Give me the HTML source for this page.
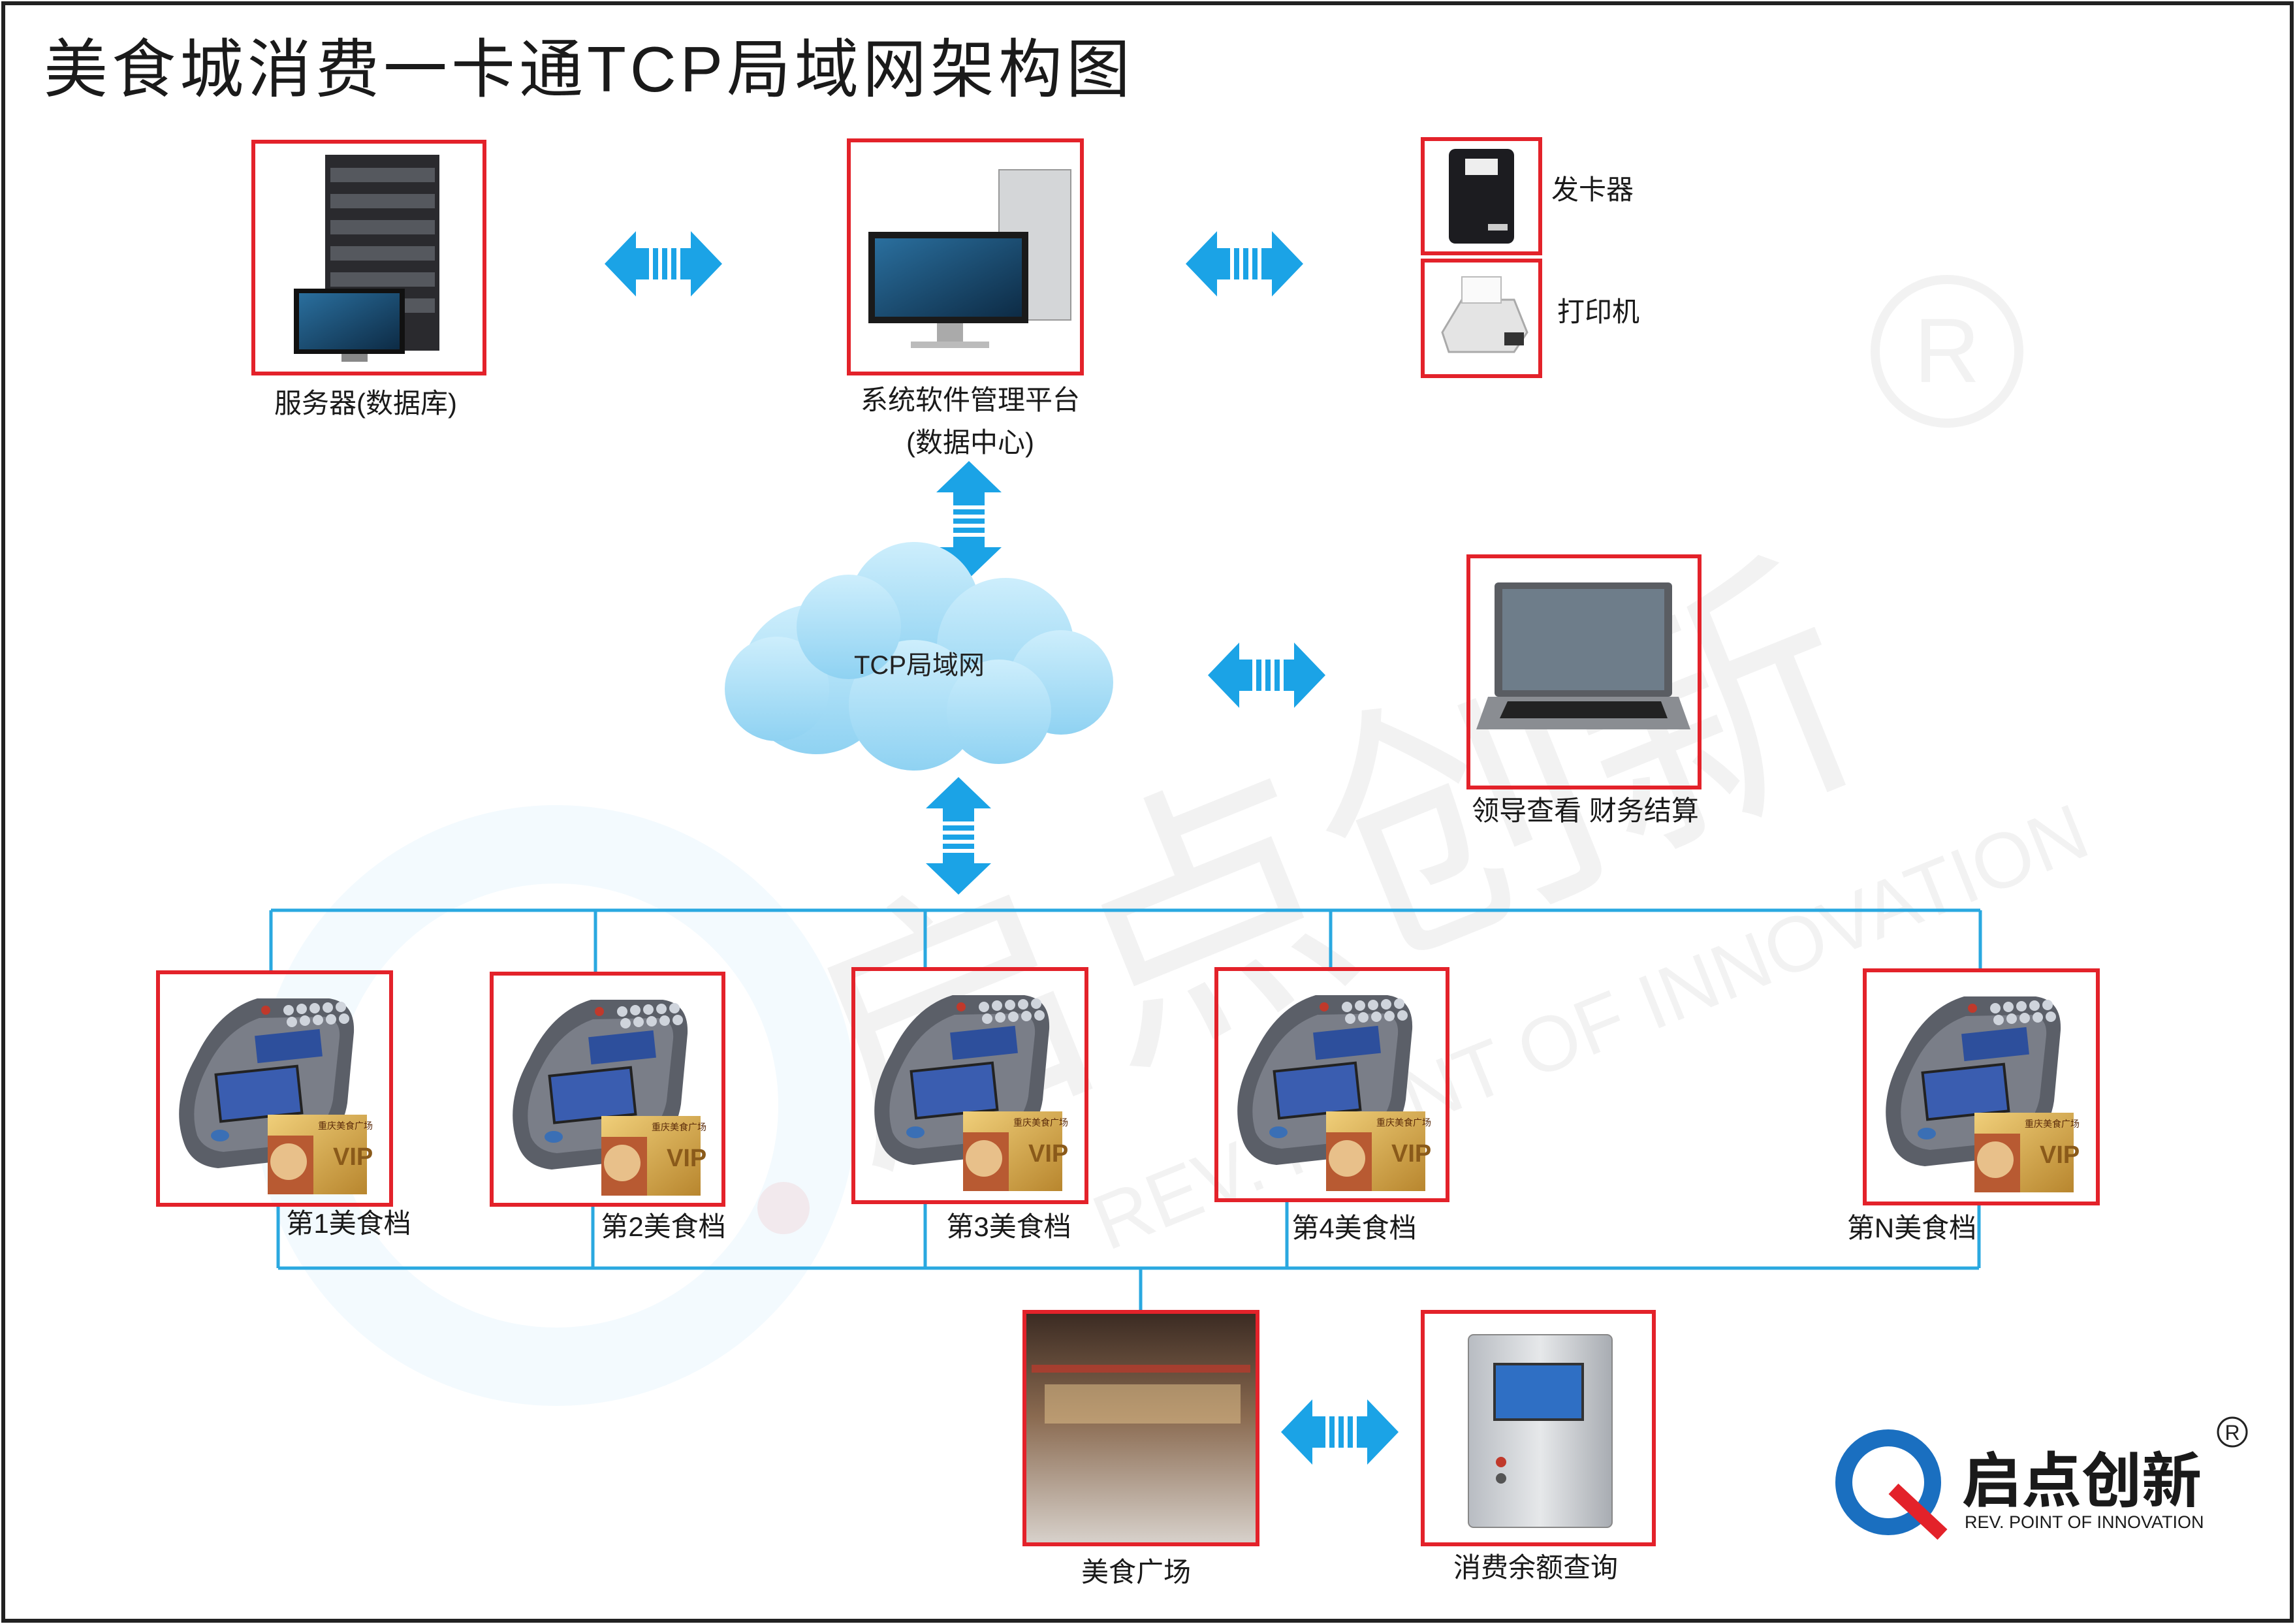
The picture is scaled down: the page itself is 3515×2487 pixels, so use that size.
<!DOCTYPE html>
<html><head><meta charset="utf-8"><style>
html,body{margin:0;padding:0;background:#fff}
svg{display:block}
text{font-family:"Liberation Sans","Noto Sans CJK SC",sans-serif}
</style></head><body>
<svg width="3515" height="2487" viewBox="0 0 3515 2487" xmlns="http://www.w3.org/2000/svg">
<defs>
<linearGradient id="cl" x1="0" y1="0" x2="0" y2="1"><stop offset="0" stop-color="#cdeefc"/><stop offset="1" stop-color="#8fd2f2"/></linearGradient>
<linearGradient id="gold" x1="0" y1="0" x2="1" y2="1"><stop offset="0" stop-color="#f0cf7a"/><stop offset="1" stop-color="#b8862e"/></linearGradient>
<linearGradient id="scr" x1="0" y1="0" x2="1" y2="1"><stop offset="0" stop-color="#2a6f9e"/><stop offset="1" stop-color="#0d2b45"/></linearGradient>
<linearGradient id="plaza" x1="0" y1="0" x2="0" y2="1"><stop offset="0" stop-color="#3a2a22"/><stop offset="0.45" stop-color="#8a6a50"/><stop offset="1" stop-color="#d8d2cc"/></linearGradient>
<linearGradient id="silver" x1="0" y1="0" x2="1" y2="0"><stop offset="0" stop-color="#b8bcc2"/><stop offset="0.5" stop-color="#e6e8ea"/><stop offset="1" stop-color="#a8acb2"/></linearGradient>
<g id="harrow">
<polygon points="0,50 48,0 48,26 132,26 132,0 180,50 132,100 132,74 48,74 48,100" fill="#1ba3e6"/>
<rect x="68" y="26" width="6" height="48" fill="#fff"/><rect x="82" y="26" width="6" height="48" fill="#fff"/><rect x="96" y="26" width="6" height="48" fill="#fff"/><rect x="110" y="26" width="6" height="48" fill="#fff"/>
</g>
<g id="pos">
<path d="M40,262 Q18,200 58,130 Q92,58 152,40 L262,40 Q302,46 300,92 L290,200 Q280,268 200,288 L92,300 Q52,296 40,262Z" fill="#5b5f68"/>
<path d="M60,250 Q45,200 78,140 Q105,88 155,70 L255,68 Q280,72 278,100 L268,195 Q258,250 195,265 L100,275 Q70,272 60,250Z" fill="#7a7e88"/>
<rect x="150" y="92" width="100" height="42" fill="#2d4f9c" transform="rotate(-6 200 113)"/>
<rect x="92" y="150" width="125" height="72" fill="#3a5db0" stroke="#222" stroke-width="4" transform="rotate(-6 155 186)"/>
<g fill="#cfd4dc"><circle cx="200" cy="58" r="8"/><circle cx="220" cy="56" r="8"/><circle cx="240" cy="55" r="8"/><circle cx="260" cy="54" r="8"/><circle cx="280" cy="53" r="8"/><circle cx="205" cy="76" r="8"/><circle cx="225" cy="74" r="8"/><circle cx="245" cy="73" r="8"/><circle cx="265" cy="72" r="8"/><circle cx="285" cy="71" r="8"/></g>
<circle cx="165" cy="58" r="7" fill="#c0392b"/>
<ellipse cx="95" cy="250" rx="14" ry="9" fill="#3a6fb5"/>
<rect x="168" y="218" width="152" height="122" fill="url(#gold)"/>
<rect x="168" y="250" width="70" height="90" fill="#b85a32"/>
<circle cx="200" cy="290" r="28" fill="#e8c08a"/>
<text x="268" y="295" font-size="38" font-weight="bold" fill="#8a5a1a">VIP</text>
<text x="245" y="240" font-size="14" fill="#5a2a0a">重庆美食广场</text>
</g>
</defs>
<rect width="3515" height="2487" fill="#fff"/>
<!-- watermark -->
<circle cx="852" cy="1693" r="400" fill="none" stroke="#1ba3e6" stroke-opacity="0.05" stroke-width="120"/>
<circle cx="1200" cy="1850" r="40" fill="#e3222a" fill-opacity="0.08"/>
<text x="1150" y="1480" font-size="420" fill="#000" fill-opacity="0.05" transform="rotate(-22 2000 1200)">启点创新</text>
<text x="1450" y="1750" font-size="120" fill="#000" fill-opacity="0.05" transform="rotate(-22 2000 1200)">REV. POINT OF INNOVATION</text>
<circle cx="2982" cy="538" r="110" fill="none" stroke="#000" stroke-opacity="0.05" stroke-width="14"/>
<text x="2982" y="585" font-size="140" text-anchor="middle" fill="#000" fill-opacity="0.05">R</text>
<!-- border -->
<rect x="5" y="5" width="3505" height="2477" fill="none" stroke="#222" stroke-width="6"/>
<text x="67" y="140" font-size="98" fill="#1a1a1a" letter-spacing="6">美食城消费一卡通TCP局域网架构图</text>

<!-- lines -->
<g stroke="#2aa8e0" stroke-width="5" fill="none">
<path d="M415,1394 H3033 M415,1394 V1489 M912,1394 V1491 M1417,1394 V1484 M2038,1394 V1484 M3033,1394 V1486"/>
<path d="M426,1942 H3031 M426,1845 V1942 M908,1845 V1942 M1417,1841 V1942 M1971,1838 V1942 M3031,1843 V1942 M1747,1942 V2009"/>
</g>

<!-- arrows -->
<use href="#harrow" transform="translate(926,354)"/>
<use href="#harrow" transform="translate(1816,354)"/>
<use href="#harrow" transform="translate(1850,984)"/>
<use href="#harrow" transform="translate(1962,2143)"/>
<use href="#harrow" transform="translate(1534,706) rotate(90)"/>
<use href="#harrow" transform="translate(1518,1190) rotate(90)"/>

<!-- cloud -->
<g fill="url(#cl)">
<circle cx="1250" cy="1040" r="115"/><circle cx="1400" cy="930" r="100"/><circle cx="1540" cy="990" r="105"/>
<circle cx="1625" cy="1045" r="80"/><circle cx="1190" cy="1055" r="80"/><circle cx="1400" cy="1080" r="100"/><circle cx="1530" cy="1090" r="80"/><circle cx="1300" cy="960" r="80"/>
</g>
<text x="1408" y="1032" font-size="40" text-anchor="middle" fill="#222">TCP局域网</text>

<!-- server -->
<g transform="translate(388,217)">
<rect x="110" y="20" width="175" height="300" fill="#2a2a2e"/>
<g fill="#55585e"><rect x="118" y="40" width="160" height="22"/><rect x="118" y="80" width="160" height="22"/><rect x="118" y="120" width="160" height="22"/><rect x="118" y="160" width="160" height="22"/><rect x="118" y="200" width="160" height="22"/><rect x="118" y="240" width="160" height="22"/></g>
<rect x="62" y="225" width="170" height="100" fill="#111"/><rect x="70" y="232" width="154" height="86" fill="url(#scr)"/>
<rect x="135" y="325" width="40" height="12" fill="#888"/>
</g>
<!-- pc -->
<g transform="translate(1300,215)">
<rect x="230" y="45" width="110" height="230" fill="#d4d6d8" stroke="#999" stroke-width="2"/>
<rect x="30" y="140" width="245" height="140" fill="#1a1a1a"/><rect x="40" y="150" width="225" height="120" fill="url(#scr)"/>
<rect x="135" y="280" width="40" height="30" fill="#aaa"/><rect x="95" y="308" width="120" height="10" fill="#bbb"/>
</g>
<!-- card issuer -->
<g transform="translate(2179,213)">
<rect x="40" y="15" width="100" height="145" rx="10" fill="#1c1c20"/>
<rect x="65" y="30" width="50" height="25" fill="#eee"/>
<rect x="100" y="130" width="30" height="10" fill="#ccc"/>
</g>
<!-- printer -->
<g transform="translate(2179,399)">
<path d="M30,110 L60,60 L140,60 L160,110 L140,140 L40,140Z" fill="#e4e4e4" stroke="#aaa" stroke-width="3"/>
<rect x="60" y="25" width="60" height="40" fill="#fafafa" stroke="#bbb" stroke-width="2"/>
<rect x="125" y="110" width="30" height="20" fill="#333"/>
</g>
<!-- laptop -->
<g transform="translate(2249,852)">
<rect x="40" y="40" width="272" height="175" rx="6" fill="#5a5d62"/><rect x="52" y="50" width="248" height="155" fill="#6e7d8a"/>
<path d="M30,215 L322,215 L340,265 L12,265Z" fill="#8a8d92"/>
<path d="M60,222 L295,222 L305,248 L48,248Z" fill="#222"/>
</g>
<!-- pos -->
<use href="#pos" transform="translate(242,1489)"/>
<use href="#pos" transform="translate(753,1491)"/>
<use href="#pos" transform="translate(1307,1484)"/>
<use href="#pos" transform="translate(1863,1484)"/>
<use href="#pos" transform="translate(2856,1486)"/>
<!-- plaza -->
<rect x="1569" y="2009" width="357" height="356" fill="url(#plaza)"/>
<rect x="1580" y="2090" width="335" height="12" fill="#c0392b" fill-opacity="0.7"/>
<rect x="1600" y="2120" width="300" height="60" fill="#e8c890" fill-opacity="0.5"/>
<!-- query -->
<g transform="translate(2179,2009)">
<rect x="70" y="35" width="220" height="295" rx="8" fill="url(#silver)" stroke="#888" stroke-width="2"/>
<rect x="110" y="80" width="135" height="85" fill="#2f6fc4" stroke="#333" stroke-width="4"/>
<circle cx="120" cy="230" r="8" fill="#c0392b"/><circle cx="120" cy="255" r="8" fill="#555"/>
</g>

<!-- red boxes -->
<g fill="none" stroke="#e3222a" stroke-width="6">
<rect x="388" y="217" width="354" height="355"/><rect x="1300" y="215" width="357" height="357"/>
<rect x="2179" y="213" width="180" height="175"/><rect x="2179" y="399" width="180" height="177"/>
<rect x="2249" y="852" width="354" height="354"/>
<rect x="242" y="1489" width="357" height="356"/><rect x="753" y="1491" width="355" height="354"/>
<rect x="1307" y="1484" width="357" height="357"/><rect x="1863" y="1484" width="354" height="354"/>
<rect x="2856" y="1486" width="357" height="357"/>
<rect x="1569" y="2009" width="357" height="356"/><rect x="2179" y="2009" width="354" height="356"/>
</g>

<!-- labels -->
<g font-size="42" fill="#1a1a1a" text-anchor="middle">
<text x="560" y="632">服务器(数据库)</text>
<text x="1486" y="627">系统软件管理平台</text>
<text x="1486" y="692">(数据中心)</text>
<text x="2439" y="305">发卡器</text>
<text x="2448" y="492">打印机</text>
<text x="2428" y="1256">领导查看 财务结算</text>
<text x="534" y="1888">第1美食档</text>
<text x="1016" y="1893">第2美食档</text>
<text x="1545" y="1893">第3美食档</text>
<text x="2074" y="1895">第4美食档</text>
<text x="2928" y="1895">第N美食档</text>
<text x="1740" y="2422">美食广场</text>
<text x="2352" y="2415">消费余额查询</text>
</g>

<!-- logo -->
<circle cx="2892" cy="2270" r="68" fill="none" stroke="#1a6fc0" stroke-width="26"/>
<path d="M2900,2280 L2975,2350" stroke="#e3222a" stroke-width="22"/>
<text x="3004" y="2300" font-size="92" font-weight="bold" fill="#1a1a1a">启点创新</text>
<text x="3009" y="2340" font-size="27" fill="#1a1a1a">REV. POINT OF INNOVATION</text>
<circle cx="3419" cy="2193" r="22" fill="none" stroke="#222" stroke-width="3"/>
<text x="3419" y="2205" font-size="32" text-anchor="middle" fill="#222">R</text>
</svg>
</body></html>
